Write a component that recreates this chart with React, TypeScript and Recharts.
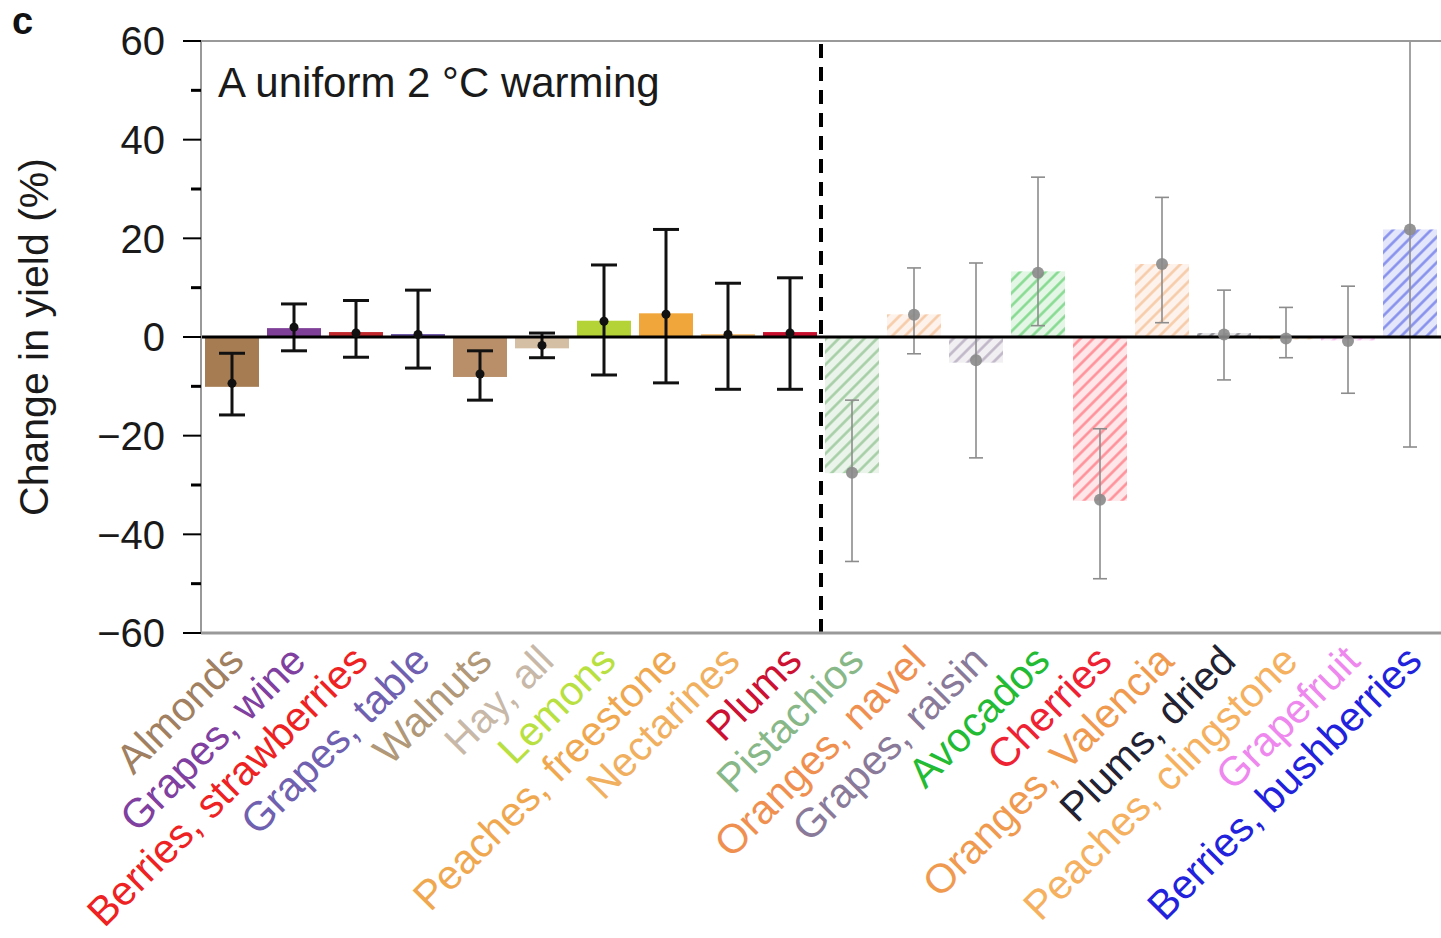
import React from 'react';
import { ComposedChart, Bar, Line, XAxis, YAxis, ReferenceLine, Label } from 'recharts';

const categories = [
  'Almonds', 'Grapes, wine', 'Berries, strawberries', 'Grapes, table', 'Walnuts',
  'Hay, all', 'Lemons', 'Peaches, freestone', 'Nectarines', 'Plums',
  'Pistachios', 'Oranges, navel', 'Grapes, raisin', 'Avocados', 'Cherries',
  'Oranges, Valencia', 'Plums, dried', 'Peaches, clingstone', 'Grapefruit', 'Berries, bushberries',
];
const barValues = [-10.1, 1.8, 1.0, 0.6, -8.1, -2.3, 3.3, 4.8, 0.6, 1.0, -27.6, 4.6, -5.2, 13.3, -33.2, 14.8, 0.8, -0.5, -0.7, 21.8];
const pointValues = [-9.4, 2.0, 0.8, 0.5, -7.5, -1.7, 3.2, 4.6, 0.5, 0.8, -27.5, 4.5, -4.7, 13.0, -33.0, 14.8, 0.5, -0.3, -0.8, 21.8];
const errLow = [-15.8, -2.8, -4.1, -6.3, -12.8, -4.2, -7.7, -9.3, -10.6, -10.6, -45.5, -3.4, -24.5, 2.3, -49.0, 2.9, -8.7, -4.2, -11.4, -22.3];
const errHigh = [-3.3, 6.7, 7.4, 9.5, -2.8, 0.8, 14.6, 21.8, 10.9, 12.0, -12.8, 14.0, 15.0, 32.4, -18.6, 28.3, 9.5, 6.0, 10.3, 60];
const projected = [false, false, false, false, false, false, false, false, false, false, true, true, true, true, true, true, true, true, true, true];
const yTicks = [-60, -50, -40, -30, -20, -10, 0, 10, 20, 30, 40, 50, 60];

const barColors = [
  '#a67c52', '#7e3f98', '#c0282d', '#6a55a5', '#b88f68',
  '#d4bfa5', '#b4d336', '#f0a63a', '#f6c07a', '#c8102e',
  '#5aa55a', '#f0a060', '#8a7a9a', '#22bb33', '#ff3344',
  '#f0a060', '#333344', '#f5b870', '#ee88dd', '#2233dd',
];
const labelColors = [
  '#a08060', '#8040a0', '#ee2222', '#7060b0', '#b09878',
  '#c8b8a8', '#b8e040', '#f0a850', '#f0b060', '#cc1133',
  '#88b888', '#f09050', '#8a7a9a', '#22bb33', '#ee2233',
  '#f09a50', '#222233', '#f5b060', '#ee88ee', '#2222dd',
];

const data = categories.map((name, i) => ({
  name,
  idx: i,
  value: barValues[i],
  point: pointValues[i],
  range: [errLow[i], errHigh[i]],
  projected: projected[i],
}));

const FONT = '"Liberation Sans", Arial, Helvetica, sans-serif';

const MainBarShape = (props: any) => {
  const { x, y, width, height, payload } = props;
  const i = payload.idx;
  const ry = height < 0 ? y + height : y;
  const rh = Math.abs(height);
  const color = barColors[i];
  if (!payload.projected) {
    return <rect x={x} y={ry} width={width} height={rh} fill={color} />;
  }
  const id = `hatch-${i}`;
  return (
    <g>
      <defs>
        <pattern id={id} patternUnits="userSpaceOnUse" width={9} height={9} patternTransform="rotate(45)">
          <rect x={0} y={0} width={9} height={9} fill={color} fillOpacity={0.12} />
          <line x1={4.5} y1={0} x2={4.5} y2={9} stroke={color} strokeWidth={2.5} strokeOpacity={0.5} />
        </pattern>
      </defs>
      <rect x={x} y={ry} width={width} height={rh} fill={`url(#${id})`} />
    </g>
  );
};

const WhiskerShape = (props: any) => {
  const { x, y, width, height, payload } = props;
  const cx = x + width / 2;
  const top = Math.min(y, y + height);
  const bot = Math.max(y, y + height);
  const solid = !payload.projected;
  const stroke = solid ? '#111' : '#8c8c8c';
  const sw = solid ? 3 : 1.6;
  const cap = solid ? 13 : 7;
  const showTopCap = payload.range[1] < 60;
  return (
    <g>
      <line x1={cx} x2={cx} y1={top} y2={bot} stroke={stroke} strokeWidth={sw} />
      {showTopCap && <line x1={cx - cap} x2={cx + cap} y1={top} y2={top} stroke={stroke} strokeWidth={sw} />}
      <line x1={cx - cap} x2={cx + cap} y1={bot} y2={bot} stroke={stroke} strokeWidth={sw} />
    </g>
  );
};

const PointDot = (props: any) => {
  const { cx, cy, payload } = props;
  if (cx == null || cy == null) return null;
  if (!payload.projected) {
    return <circle key={`d-${payload.idx}`} cx={cx} cy={cy} r={4.5} fill="#111" />;
  }
  return <circle key={`d-${payload.idx}`} cx={cx} cy={cy} r={6} fill="#8a8a8a" fillOpacity={0.9} />;
};

const YTick = (props: any) => {
  const { x, y, payload } = props;
  const v = payload.value;
  const major = v % 20 === 0;
  return (
    <g>
      <line x1={x - (major ? 18 : 10)} x2={x} y1={y} y2={y} stroke="#000" strokeWidth={major ? 2 : 3} />
      {major && (
        <text x={x - 36} y={y} dy="0.36em" textAnchor="end" fontSize={40} fill="#1a1a1a" fontFamily={FONT}>
          {v < 0 ? `\u2212${-v}` : `${v}`}
        </text>
      )}
    </g>
  );
};

const XTick = (props: any) => {
  const { x, y, payload, index } = props;
  const i = typeof index === 'number' ? index : categories.indexOf(payload.value);
  return (
    <text
      transform={`translate(${x + 14},${y + 30}) rotate(-45)`}
      textAnchor="end"
      fontSize={41}
      fill={labelColors[i]}
      fontFamily={FONT}
    >
      {payload.value}
    </text>
  );
};

export default function App() {
  return (
    <div style={{ position: 'absolute', left: 0, top: 0, width: 1441, height: 938, background: '#fff', fontFamily: FONT, overflow: 'hidden' }}>
      <ComposedChart
        width={1441}
        height={938}
        data={data}
        margin={{ top: 41, right: 0, bottom: 0, left: 0 }}
        barCategoryGap={4}
      >
        <XAxis
          xAxisId="main"
          dataKey="name"
          type="category"
          interval={0}
          height={305}
          tickSize={0}
          tickMargin={0}
          tickLine={false}
          axisLine={{ stroke: '#999', strokeWidth: 3 }}
          tick={<XTick />}
        />
        <XAxis xAxisId="err" dataKey="name" type="category" hide height={0} />
        <YAxis
          type="number"
          domain={[-60, 60]}
          ticks={yTicks}
          interval={0}
          allowDataOverflow
          width={201}
          tickSize={0}
          tickMargin={0}
          tickLine={false}
          axisLine={{ stroke: '#999', strokeWidth: 2 }}
          tick={<YTick />}
        >
          <Label
            content={(p: any) => {
              const vb = p.viewBox || { x: 0, y: 41, width: 201, height: 592 };
              const cy = vb.y + vb.height / 2;
              return (
                <text
                  transform={`translate(${vb.x + 48},${cy}) rotate(-90)`}
                  textAnchor="middle"
                  fontSize={41}
                  fill="#1a1a1a"
                  fontFamily={FONT}
                >
                  Change in yield (%)
                </text>
              );
            }}
          />
        </YAxis>
        <ReferenceLine xAxisId="main" y={60} stroke="#999" strokeWidth={2} />
        <Bar xAxisId="main" dataKey="value" shape={<MainBarShape />} isAnimationActive={false} />
        <Bar xAxisId="err" dataKey="range" shape={<WhiskerShape />} isAnimationActive={false} />
        <ReferenceLine xAxisId="main" y={0} stroke="#000" strokeWidth={3} />
        <ReferenceLine
          xAxisId="main"
          x="Plums"
          position="end"
          stroke="#000"
          strokeWidth={4}
          strokeDasharray="14 9"
        />
        <Line
          xAxisId="main"
          dataKey="point"
          stroke="none"
          dot={<PointDot />}
          activeDot={false}
          isAnimationActive={false}
        />
      </ComposedChart>
      <div style={{ position: 'absolute', left: 12, top: 2, fontSize: 38, fontWeight: 'bold', color: '#111', lineHeight: 1 }}>c</div>
      <div style={{ position: 'absolute', left: 218, top: 62, fontSize: 42, color: '#1a1a1a', lineHeight: 1, whiteSpace: 'nowrap' }}>
        A uniform 2 °C warming
      </div>
    </div>
  );
}
